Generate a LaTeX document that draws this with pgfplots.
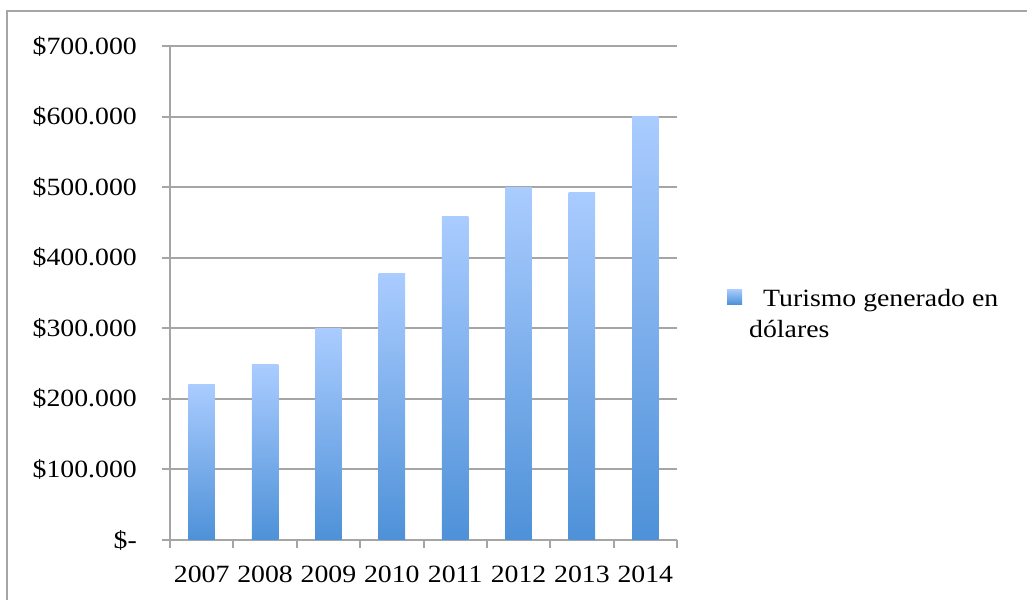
\documentclass[border=0pt]{standalone}
\usepackage{fontspec}
\setmainfont{Liberation Serif}[FakeStretch=1.12]
\usepackage{pgfplots}
\pgfplotsset{compat=1.18}
\definecolor{gridgray}{RGB}{165,165,165}
\definecolor{bartop}{RGB}{170,204,255}
\definecolor{barbot}{RGB}{78,145,216}
\begin{document}
\fontsize{24.8bp}{31bp}\selectfont
\begin{tikzpicture}[x=1bp,y=1bp]
\useasboundingbox (0,0) rectangle (1027,600);
\draw[gridgray, line width=2bp] (7,0) -- (7,589) -- (1027,589);
\begin{axis}[
  at={(170bp,60bp)}, anchor=south west,
  scale only axis, width=507bp, height=494bp,
  xmin=-0.5, xmax=7.5, ymin=0, ymax=700000,
  scaled y ticks=false,
  axis x line*=bottom, axis y line*=left,
  axis line style={gridgray, line width=2bp, -},
  xtick={-0.5,0.5,...,7.5},
  x tick label as interval,
  xticklabels={2007,2008,2009,2010,2011,2012,2013,2014},
  ytick={0,100000,200000,300000,400000,500000,600000,700000},
  yticklabels={\$-,\$100.000,\$200.000,\$300.000,\$400.000,\$500.000,\$600.000,\$700.000},
  tick align=outside, major tick length=8bp,
  tick style={gridgray, line width=2bp},
  ymajorgrids, major grid style={gridgray, line width=2bp},
  tick label style={font=\fontsize{24.8bp}{31bp}\selectfont, inner sep=0pt},
  yticklabel style={anchor=east, xshift=-25bp},
  xticklabel style={anchor=north, yshift=-18bp},
  legend style={draw=none, fill=none, at={(rel axis cs:1.0986,0.512)}, anchor=north west,
    font=\fontsize{24.8bp}{31bp}\selectfont, column sep=5bp, inner sep=0pt,
    cells={align=left, anchor=west}},
  legend image code/.code={\shade[top color=bartop, bottom color=barbot] (0bp,11bp) rectangle (15bp,26bp);},
  mybar/.style={ybar, bar width=26.5bp, bar shift=0pt, draw=none, top color=bartop, bottom color=barbot},
]
\addplot[mybar] coordinates {(0,220000)};
\addlegendentry{\hspace*{14bp}Turismo generado en\\dólares}
\addplot[mybar, forget plot] coordinates {(1,248000)};
\addplot[mybar, forget plot] coordinates {(2,300000)};
\addplot[mybar, forget plot] coordinates {(3,378000)};
\addplot[mybar, forget plot] coordinates {(4,459000)};
\addplot[mybar, forget plot] coordinates {(5,500000)};
\addplot[mybar, forget plot] coordinates {(6,493000)};
\addplot[mybar, forget plot] coordinates {(7,600000)};
\end{axis}
\end{tikzpicture}
\end{document}
